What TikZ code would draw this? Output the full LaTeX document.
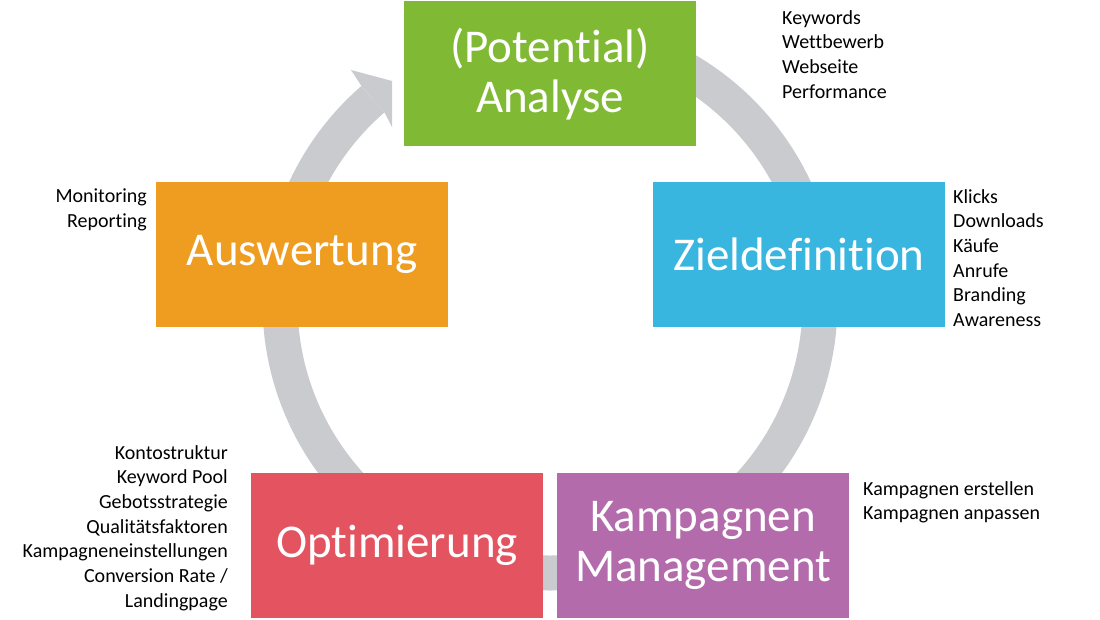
\documentclass[tikz,border=0pt]{standalone}
\usepackage{fontspec}
\setmainfont{Carlito}[Ligatures=NoCommon]
\definecolor{cgreen}{HTML}{80BA34}
\definecolor{ccyan}{HTML}{39B6E0}
\definecolor{corange}{HTML}{EF9D20}
\definecolor{cred}{HTML}{E35360}
\definecolor{cpurple}{HTML}{B36BAC}
\definecolor{cgray}{HTML}{C9CBCE}
\tikzset{
  stagebox/.style={rectangle, minimum width=292pt, minimum height=145pt, inner sep=0pt,
    text=white, align=center, font=\fontsize{47}{50}\selectfont},
  sidetext/.style={inner sep=0pt, font=\fontsize{20}{24.7}\selectfont, text=black},
}
\begin{document}
\begin{tikzpicture}[x=1pt,y=1pt]
\useasboundingbox (0,0) rectangle (1100,619);
\fill[white] (0,0) rectangle (1100,619);
% ring
\coordinate (c) at (550,316);
\path (c) ++(131:287) coordinate (ob);
\path (c) ++(131:252) coordinate (ib);
\coordinate (bo) at (351,549);
\coordinate (tip) at (392,538);
\coordinate (bi) at (392,492);
\draw[cgray, line width=35pt] (c) ++(131:270) arc[start angle=131, end angle=445, radius=270];
\fill[cgray] (ob) -- (bo) -- (tip) -- (bi) -- (ib) -- cycle;
% boxes
\node[stagebox, fill=cgreen]  (ana) at (550,545)   {(Potential)\\Analyse};
\node[stagebox, fill=ccyan]   (ziel) at (799,364.5) {Zieldefinition};
\node[stagebox, fill=cpurple] (kam) at (703,74)    {Kampagnen\\Management};
\node[stagebox, fill=cred]    (opt) at (397,74)    {Optimierung};
\node[stagebox, fill=corange] (aus) at (302,364.5) {Auswertung};
% side texts
\node[sidetext, anchor=north west, align=left] (t1) at (782,609) {Keywords\\Wettbewerb\\Webseite\\Performance};
\node[sidetext, anchor=north west, align=left] (t2) at (953,430) {Klicks\\Downloads\\Käufe\\Anrufe\\Branding\\Awareness};
\node[sidetext, anchor=north west, align=left] (t3) at (863,138) {Kampagnen erstellen\\Kampagnen anpassen};
\node[sidetext, anchor=north east, align=right] (t4) at (147,430) {Monitoring\\Reporting};
\node[sidetext, anchor=north east, align=right] (t5) at (228,174) {Kontostruktur\\Keyword Pool\\Gebotsstrategie\\Qualitätsfaktoren\\Kampagneneinstellungen\\Conversion Rate /\\Landingpage};
\end{tikzpicture}
\end{document}
